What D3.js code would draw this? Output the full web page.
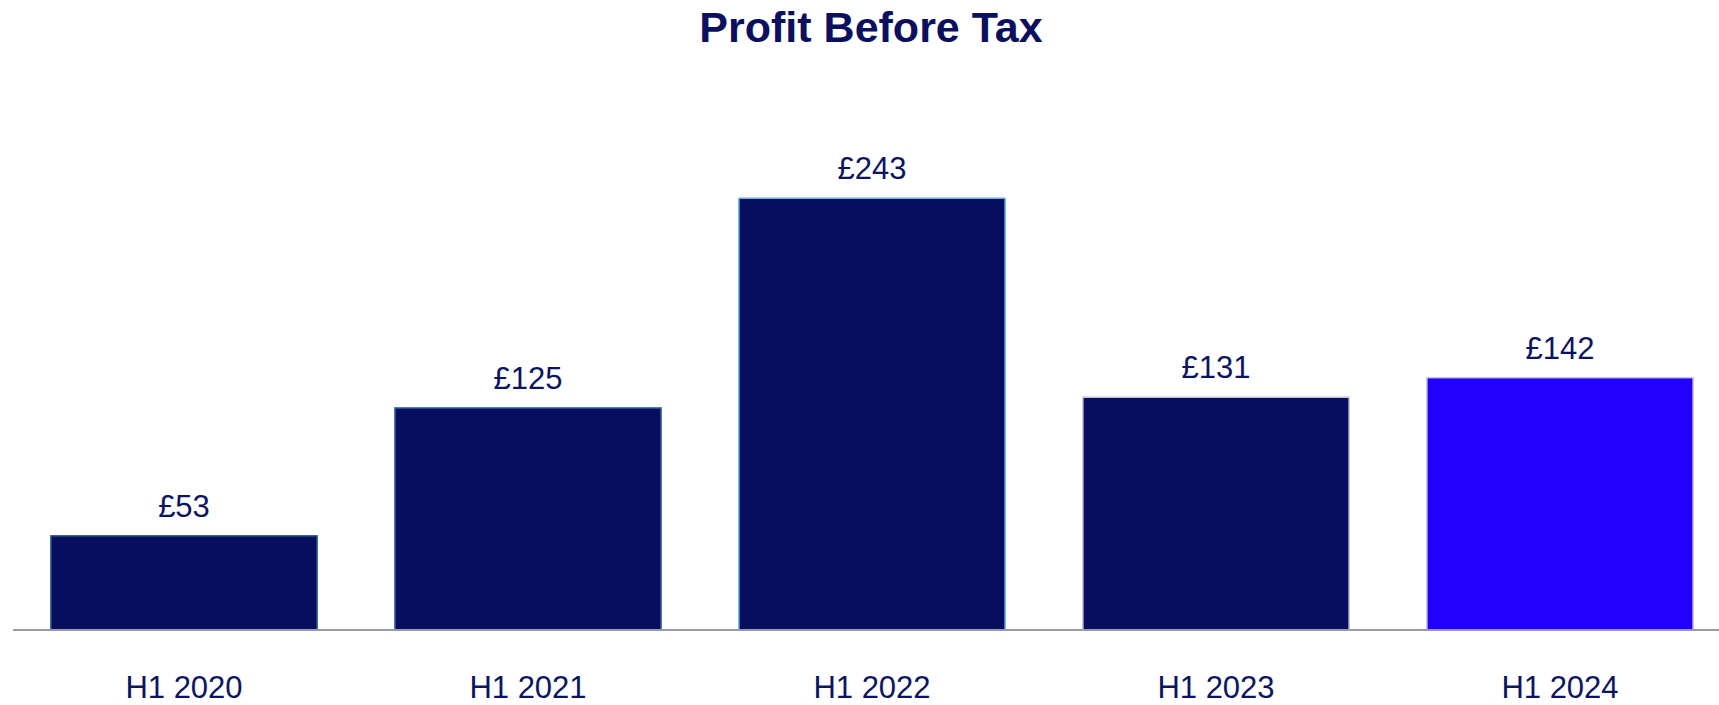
<!DOCTYPE html>
<html>
<head>
<meta charset="utf-8">
<script src="https://cdn.jsdelivr.net/npm/d3@7"></script>
<style>
    html, body { margin: 0; padding: 0; background: #fff; }
    svg { display: block; font-family: Arial, "Liberation Sans", sans-serif; }
</style>
</head>
<body>
<div id="chart"></div>
<script>
const categories = ['H1 2020', 'H1 2021', 'H1 2022', 'H1 2023', 'H1 2024'];
const profit = [53, 125, 243, 131, 142];
const valueLabels = ['£53', '£125', '£243', '£131', '£142'];
const barFills = ['#070d5f', '#070d5f', '#070d5f', '#070d5f', '#2200ff'];
const barStrokes = ['#2d6288', '#3c70a0', '#6db5e8', '#c9c9d2', '#c9c9d6'];

const width = 1719, height = 705;
const baseY = 630;

const svg = d3.select('#chart')
    .append('svg')
    .attr('width', width)
    .attr('height', height);

const x = d3.scaleBand()
    .domain(categories)
    .range([12, 1732])
    .paddingInner(0.226)
    .paddingOuter(0.113);

const y = d3.scaleLinear()
    .domain([0, 280])
    .range([baseY, baseY - 1.777 * 280]);

// title
svg.append('text')
    .attr('x', 871)
    .attr('y', 42)
    .attr('text-anchor', 'middle')
    .attr('font-size', 43)
    .attr('font-weight', 'bold')
    .attr('fill', '#0a0f5e')
    .text('Profit Before Tax');

// bars
svg.append('g')
    .selectAll('rect')
    .data(profit)
    .enter().append('rect')
    .attr('x', (d, i) => x(categories[i]))
    .attr('y', d => y(d))
    .attr('width', x.bandwidth())
    .attr('height', d => y(0) - y(d))
    .attr('fill', (d, i) => barFills[i])
    .attr('stroke', (d, i) => barStrokes[i])
    .attr('stroke-width', 1.5);

// value labels
svg.append('g')
    .selectAll('text')
    .data(profit)
    .enter().append('text')
    .attr('x', (d, i) => x(categories[i]) + x.bandwidth() / 2)
    .attr('y', d => y(d) - 19)
    .attr('text-anchor', 'middle')
    .attr('font-size', 31)
    .attr('fill', '#0b1462')
    .text((d, i) => valueLabels[i]);

// baseline axis
const xAxis = svg.append('g')
    .attr('transform', `translate(0,${baseY})`)
    .call(d3.axisBottom(x).tickSize(0).tickPadding(40));

xAxis.select('.domain')
    .attr('d', `M13,0H${width}`)
    .attr('stroke', '#9a9aaa')
    .attr('stroke-width', 2);

xAxis.selectAll('text')
    .attr('font-size', 31)
    .attr('font-family', 'Arial, "Liberation Sans", sans-serif')
    .attr('fill', '#0b1462')
    .attr('dy', null)
    .attr('y', 68);
</script>
</body>
</html>
